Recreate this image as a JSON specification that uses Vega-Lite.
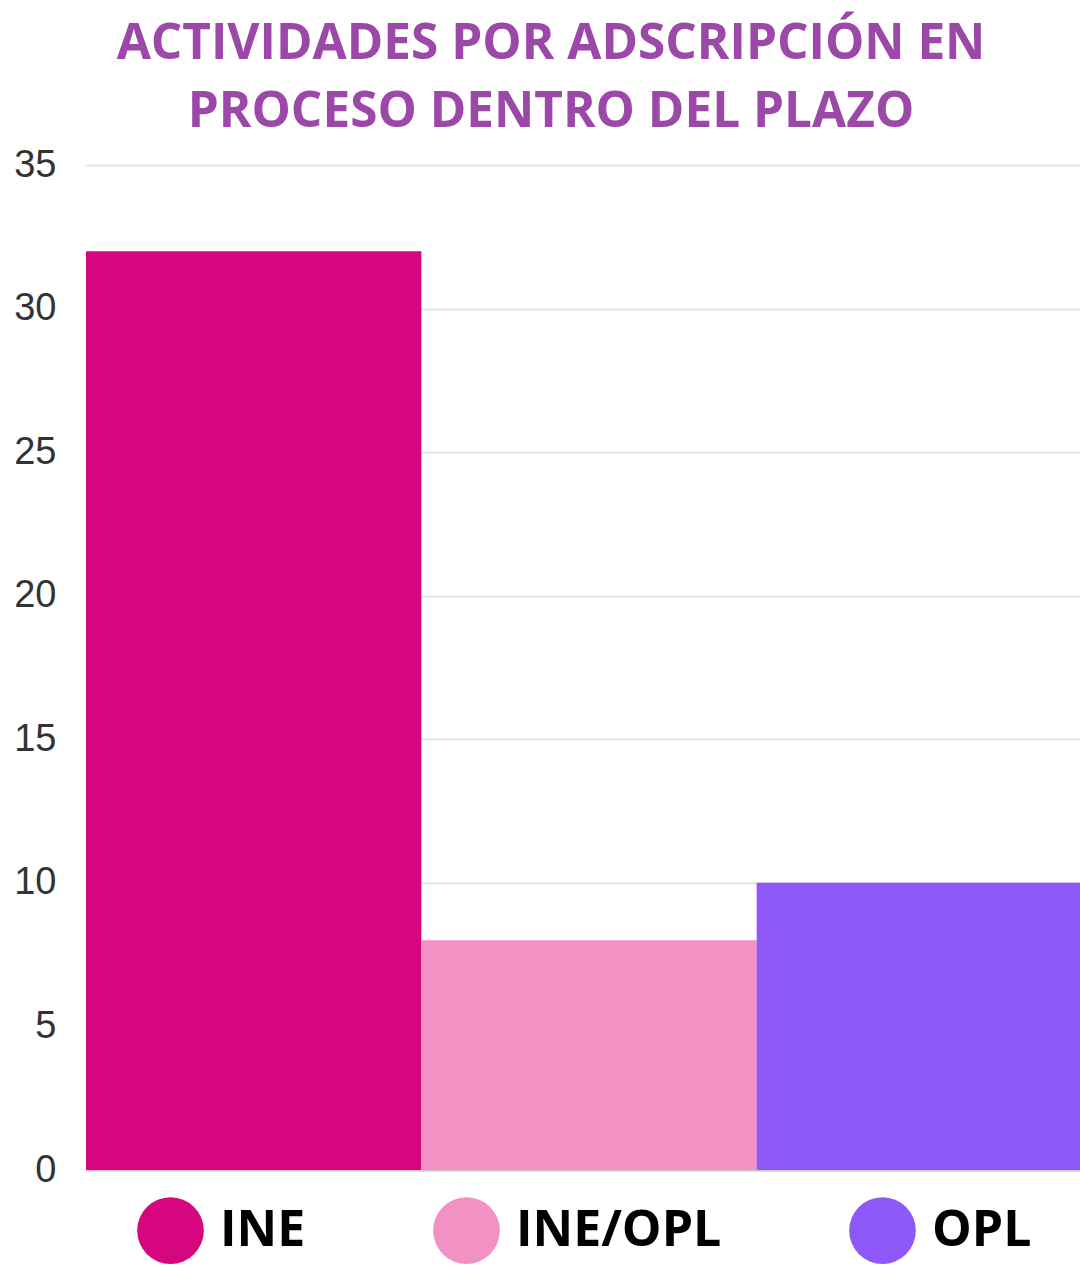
{
  "$schema": "https://vega.github.io/schema/vega-lite/v6.json",
  "width": 1006,
  "height": 1005,
  "autosize": "none",
  "padding": {"left": 86, "top": 165, "right": 0, "bottom": 96},
  "background": "white",
  "title": {
    "text": ["ACTIVIDADES POR ADSCRIPCIÓN EN", "PROCESO DENTRO DEL PLAZO"],
    "font": "Open Sans",
    "fontWeight": "bold",
    "fontSize": 49.5,
    "lineHeight": 68,
    "color": "#9B48A8",
    "anchor": "middle",
    "dx": -38,
    "offset": 9
  },
  "data": {
    "values": [
      {"adscripcion": "INE", "actividades": 32},
      {"adscripcion": "INE/OPL", "actividades": 8},
      {"adscripcion": "OPL", "actividades": 10}
    ]
  },
  "mark": {"type": "bar"},
  "encoding": {
    "x": {
      "field": "adscripcion",
      "type": "nominal",
      "sort": ["INE", "INE/OPL", "OPL"],
      "scale": {"paddingInner": 0, "paddingOuter": 0},
      "axis": {"title": null, "labels": false, "ticks": false, "domainColor": "#cccccc", "domainWidth": 2}
    },
    "y": {
      "field": "actividades",
      "type": "quantitative",
      "scale": {"domain": [0, 35], "nice": false},
      "axis": {
        "title": null,
        "values": [0, 5, 10, 15, 20, 25, 30, 35],
        "domain": false,
        "ticks": false,
        "labelFont": "Liberation Sans",
        "labelFontSize": 38,
        "labelColor": "#333333",
        "labelPadding": 30,
        "gridColor": "#e3e3e3",
        "gridWidth": 2
      }
    },
    "color": {
      "field": "adscripcion",
      "type": "nominal",
      "sort": ["INE", "INE/OPL", "OPL"],
      "scale": {"domain": ["INE", "INE/OPL", "OPL"], "range": ["#D6067F", "#F191C4", "#8E57F8"]},
      "legend": {
        "title": null,
        "orient": "none",
        "direction": "horizontal",
        "legendX": 51,
        "legendY": 1032,
        "symbolType": "circle",
        "symbolSize": 4450,
        "symbolStrokeWidth": 0,
        "labelFont": "Open Sans",
        "labelFontWeight": "bold",
        "labelFontSize": 50,
        "labelLimit": 500,
        "labelColor": "#000000",
        "labelOffset": 16,
        "columnPadding": 127
      }
    }
  },
  "config": {"view": {"stroke": null}}
}
